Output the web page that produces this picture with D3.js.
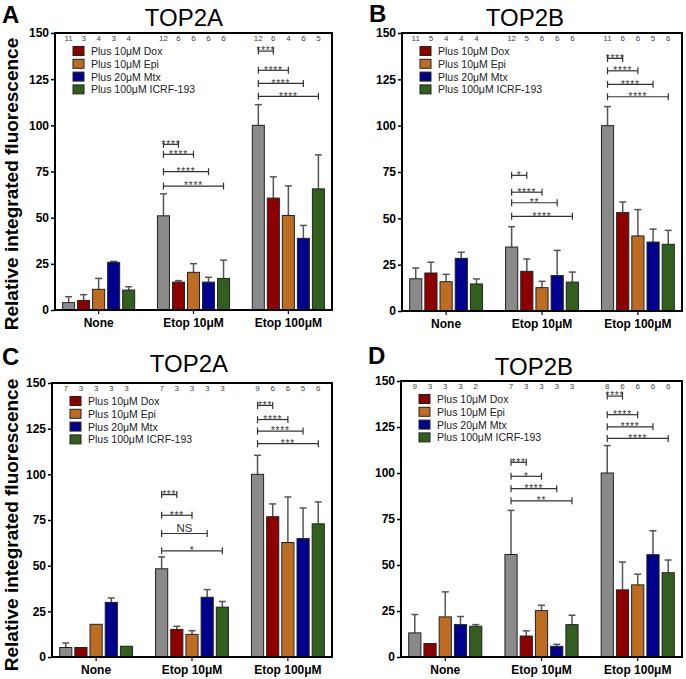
<!DOCTYPE html>
<html>
<head>
<meta charset="utf-8">
<script src="https://cdn.jsdelivr.net/npm/d3@7"></script>
<style>
html,body{margin:0;padding:0;background:#fff;}
svg{display:block;font-family:"Liberation Sans",Arial,sans-serif;}
</style>
</head>
<body>
<svg id="chart" width="686" height="679"></svg>
<script>
// ---------------- DATA ----------------
const categories = ["None", "Etop 10μM", "Etop 100μM"];
const seriesNames = ["Control", "Plus 10μM Dox", "Plus 10μM Epi", "Plus 20μM Mtx", "Plus 100μM ICRF-193"];
const seriesColors = ["#8a8a8a", "#8e0000", "#bd6c22", "#00008e", "#325f1e"];
const yTicks = [0, 25, 50, 75, 100, 125, 150];
const panelLetters = ["A", "B", "C", "D"];
const panelTitles = ["TOP2A", "TOP2B", "TOP2A", "TOP2B"];
const yAxisTitle = "Relative integrated fluorescence";

// mean values [group][series]
const valuesA = [[4.0, 5.2, 11.2, 25.8, 10.8], [51.0, 15.1, 20.4, 15.1, 17.1], [100, 60.6, 51.2, 38.8, 65.6]];
const valuesB = [[17.4, 20.5, 15.8, 28.4, 14.6], [34.5, 21.4, 12.6, 19.1, 15.6], [100, 53.1, 40.5, 37.2, 36.0]];
const valuesC = [[5.2, 5.2, 17.9, 29.9, 5.9], [48.3, 15.1, 12.4, 32.7, 27.3], [100, 76.8, 62.7, 64.8, 72.9]];
const valuesD = [[13.1, 7.3, 21.8, 17.6, 16.7], [55.7, 11.4, 25.2, 5.8, 17.6], [100, 36.5, 39.2, 55.6, 45.8]];

// upper error magnitudes [group][series]
const errorsA = [[3.2, 3.1, 5.9, 0.5, 1.8], [11.9, 0.8, 4.7, 2.6, 9.9], [11.2, 11.5, 16.0, 7.0, 18.4]];
const errorsB = [[5.8, 5.8, 4.0, 3.3, 2.7], [11.0, 6.7, 3.4, 13.6, 5.4], [10.3, 5.7, 14.2, 7.0, 7.5]];
const errorsC = [[2.5, 0, 0, 2.4, 0], [6.5, 1.7, 2.0, 4.2, 3.1], [10.4, 7.0, 24.9, 16.8, 12.0]];
const errorsD = [[10.0, 0, 13.6, 4.4, 0.9], [24.0, 2.8, 2.9, 1.1, 5.1], [14.9, 15.1, 5.8, 13.0, 6.9]];

// n counts [group][series]
const countsA = [[11, 3, 4, 3, 4], [12, 6, 6, 6, 6], [12, 6, 4, 6, 5]];
const countsB = [[11, 5, 4, 4, 4], [12, 5, 6, 6, 6], [11, 6, 6, 5, 6]];
const countsC = [[7, 3, 3, 3, 3], [7, 3, 3, 3, 3], [9, 6, 6, 5, 6]];
const countsD = [[9, 3, 3, 3, 2], [7, 3, 3, 3, 3], [8, 6, 6, 6, 6]];

// significance labels (control vs series 1..4) for groups Etop 10 and Etop 100
const sigLabelsA = [null, ["****", "****", "****", "****"], ["****", "****", "****", "****"]];
const sigLabelsB = [null, ["*", "****", "**", "****"], ["****", "****", "****", "****"]];
const sigLabelsC = [null, ["***", "***", "NS", "*"], ["***", "****", "****", "***"]];
const sigLabelsD = [null, ["***", "*", "****", "**"], ["****", "****", "****", "****"]];
// bracket heights in data units
const sigLevelsA = [null, [89.7, 84.3, 74.9, 67.1], [140.2, 129.8, 122.7, 115.7]];
const sigLevelsB = [null, [73.2, 64.1, 58.4, 51.1], [136.3, 129.6, 122.3, 115.6]];
const sigLevelsC = [null, [88.9, 77.6, 67.6, 58.1], [137.7, 130.0, 123.7, 116.8]];
const sigLevelsD = [null, [105.8, 98.2, 91.5, 84.9], [141.8, 131.7, 125.1, 118.8]];

// ---------------- LAYOUT ----------------
const panels = [
  {letter: panelLetters[0], title: panelTitles[0], values: valuesA, errors: errorsA, counts: countsA, sigL: sigLabelsA, sigY: sigLevelsA,
   left: 55, right: 332, top: 33, bottom: 310, letterX: 2, letterY: 23, titleX: 184, titleY: 26, ylabel: true, ylabelY: 184},
  {letter: panelLetters[1], title: panelTitles[1], values: valuesB, errors: errorsB, counts: countsB, sigL: sigLabelsB, sigY: sigLevelsB,
   left: 402, right: 682, top: 33, bottom: 311, letterX: 369, letterY: 22, titleX: 525, titleY: 26, ylabel: false},
  {letter: panelLetters[2], title: panelTitles[2], values: valuesC, errors: errorsC, counts: countsC, sigL: sigLabelsC, sigY: sigLevelsC,
   left: 52, right: 332, top: 383, bottom: 657, letterX: 2, letterY: 365, titleX: 189, titleY: 372, ylabel: true, ylabelY: 525},
  {letter: panelLetters[3], title: panelTitles[3], values: valuesD, errors: errorsD, counts: countsD, sigL: sigLabelsD, sigY: sigLevelsD,
   left: 401, right: 682, top: 381, bottom: 657, letterX: 368, letterY: 364, titleX: 534, titleY: 375, ylabel: false}
];

const svg = d3.select("#chart");

panels.forEach(p => {
  const g = svg.append("g");
  const x0 = d3.scaleBand().domain(categories).range([p.left, p.right]).paddingInner(0.24).paddingOuter(0.08);
  const x1 = d3.scaleBand().domain(d3.range(seriesNames.length)).range([0, x0.bandwidth()]).paddingInner(0.2).paddingOuter(0);
  const y = d3.scaleLinear().domain([0, 150]).range([p.bottom, p.top]);

  // panel letter & title
  g.append("text").attr("x", p.letterX).attr("y", p.letterY).attr("font-size", 24).attr("font-weight", "bold").text(p.letter);
  g.append("text").attr("x", p.titleX).attr("y", p.titleY).attr("text-anchor", "middle").attr("font-size", 24).text(p.title);

  if (p.ylabel) {
    g.append("text").attr("transform", `translate(18,${p.ylabelY}) rotate(-90)`).attr("text-anchor", "middle")
      .attr("font-size", 19).attr("font-weight", "bold").text(yAxisTitle);
  }

  // bars
  categories.forEach((c, gi) => {
    seriesNames.forEach((s, si) => {
      const v = p.values[gi][si];
      const bx = x0(c) + x1(si);
      const bw = x1.bandwidth();
      const e = p.errors[gi][si];
      if (e > 0) {
        const cx = bx + bw / 2;
        g.append("line").attr("x1", cx).attr("x2", cx).attr("y1", y(v)).attr("y2", y(v + e))
          .attr("stroke", "#555").attr("stroke-width", 1.5);
        g.append("line").attr("x1", cx - 3.5).attr("x2", cx + 3.5).attr("y1", y(v + e)).attr("y2", y(v + e))
          .attr("stroke", "#555").attr("stroke-width", 1.5);
      }
      g.append("rect").attr("x", bx).attr("y", y(v)).attr("width", bw).attr("height", y(0) - y(v))
        .attr("fill", seriesColors[si]).attr("stroke", "#222").attr("stroke-width", 1);
      // n counts
      g.append("text").attr("x", bx + bw / 2).attr("y", p.top + 8).attr("text-anchor", "middle")
        .attr("font-size", 8).attr("fill", "#444").text(p.counts[gi][si]);
    });
    // significance brackets
    if (p.sigL[gi]) {
      const cx0 = x0(c) + x1(0) + x1.bandwidth() / 2;
      p.sigL[gi].forEach((lab, k) => {
        const cx1 = x0(c) + x1(k + 1) + x1.bandwidth() / 2;
        const yy = y(p.sigY[gi][k]);
        g.append("line").attr("x1", cx0).attr("x2", cx1).attr("y1", yy).attr("y2", yy).attr("stroke", "#333").attr("stroke-width", 1.2);
        [cx0, cx1].forEach(xx => g.append("line").attr("x1", xx).attr("x2", xx).attr("y1", yy - 3.5).attr("y2", yy + 3.5)
          .attr("stroke", "#333").attr("stroke-width", 1.2));
        const isNS = lab === "NS";
        g.append("text").attr("x", (cx0 + cx1) / 2).attr("y", isNS ? yy - 2 : yy + 3.3).attr("text-anchor", "middle")
          .attr("font-size", isNS ? 11.5 : 10).attr("letter-spacing", isNS ? 0 : 0.8).attr("fill", "#333").text(lab);
      });
    }
  });

  // y axis
  const yAxis = d3.axisLeft(y).tickValues(yTicks).tickSize(4).tickPadding(2);
  const ya = g.append("g").attr("transform", `translate(${p.left},0)`).call(yAxis);
  ya.select(".domain").remove();
  ya.selectAll(".tick line").attr("stroke", "#000").attr("stroke-width", 1.5);
  ya.selectAll(".tick text").attr("font-size", 12).attr("font-weight", "bold").attr("fill", "#000")
    .attr("font-family", "Liberation Sans, Arial, sans-serif");

  // x axis
  const xAxis = d3.axisBottom(x0).tickSize(4).tickPadding(4);
  const xa = g.append("g").attr("transform", `translate(0,${p.bottom})`).call(xAxis);
  xa.select(".domain").remove();
  xa.selectAll(".tick line").attr("stroke", "#000").attr("stroke-width", 1.2);
  xa.selectAll(".tick text").attr("font-size", 12).attr("font-weight", "bold").attr("fill", "#000")
    .attr("font-family", "Liberation Sans, Arial, sans-serif");

  // frame
  g.append("rect").attr("x", p.left).attr("y", p.top).attr("width", p.right - p.left).attr("height", p.bottom - p.top)
    .attr("fill", "none").attr("stroke", "#000").attr("stroke-width", 2);

  // legend
  const lg = g.append("g").attr("transform", `translate(${p.left + 18},${p.top + 18})`);
  seriesNames.slice(1).forEach((s, i) => {
    lg.append("rect").attr("x", 0).attr("y", i * 12.8 - 4.5).attr("width", 11).attr("height", 9)
      .attr("fill", seriesColors[i + 1]).attr("stroke", "#222").attr("stroke-width", 1);
    lg.append("text").attr("x", 18).attr("y", i * 12.8 + 4).attr("font-size", 10.5).attr("fill", "#222").text(s);
  });
});
</script>
</body>
</html>
